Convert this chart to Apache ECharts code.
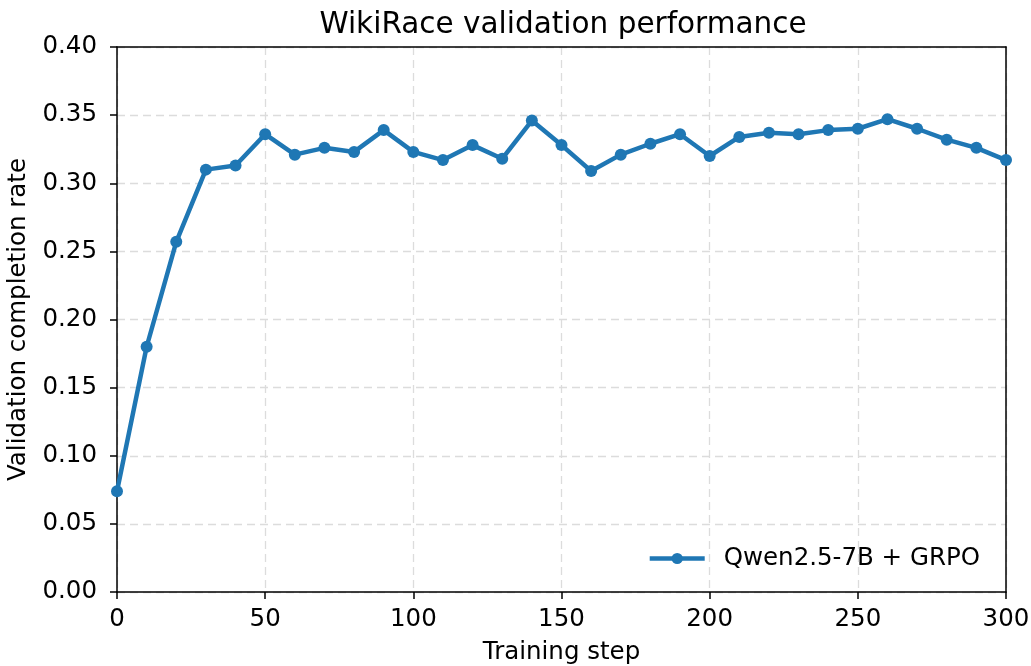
<!DOCTYPE html>
<html>
<head>
<meta charset="utf-8">
<script src="https://cdn.jsdelivr.net/npm/echarts@6/dist/echarts.min.js"></script>
<style>html,body{margin:0;padding:0;background:#fff}#c{width:1031px;height:666px}</style>
</head>
<body>
<div id="c"></div>
<script>
const steps = [0,10,20,30,40,50,60,70,80,90,100,110,120,130,140,150,160,170,180,190,200,210,220,230,240,250,260,270,280,290,300];
const completionRate = [0.074,0.180,0.257,0.310,0.313,0.336,0.321,0.326,0.323,0.339,0.323,0.317,0.328,0.318,0.346,0.328,0.309,0.321,0.329,0.336,0.320,0.334,0.337,0.336,0.339,0.340,0.347,0.340,0.332,0.326,0.317];
const seriesName = 'Qwen2.5-7B + GRPO';
const titleText = 'WikiRace validation performance';
const xLabel = 'Training step';
const yLabel = 'Validation completion rate';

const font = 'DejaVu Sans';
const fs = 24.5;
const frameAxis = {show: true, onZero: false, lineStyle: {color: '#000', width: 1.5}};
const chart = echarts.init(document.getElementById('c'), null, {renderer:'canvas'});
chart.setOption({
  animation: false,
  backgroundColor: '#fff',
  textStyle: {fontFamily: font},
  title: {
    text: titleText, left: 558, textAlign: 'center', top: 5,
    textStyle: {fontFamily: font, fontSize: 29.5, fontWeight: 'normal', color: '#000'}
  },
  grid: {left: 117, right: 25, top: 47, bottom: 74, outerBoundsMode: 'none', containLabel: false},
  legend: {
    right: 46, top: 541, itemWidth: 55, itemHeight: 14, itemGap: 10,
    data: [{name: seriesName}],
    lineStyle: {width: 4.5},
    textStyle: {fontFamily: font, fontSize: fs, color: '#000', padding: [0,0,0,14]}
  },
  xAxis: [{
    type: 'value', min: 0, max: 300, interval: 50,
    name: xLabel, nameLocation: 'middle', nameGap: 48,
    nameTextStyle: {fontFamily: font, fontSize: fs, color: '#000'},
    axisLine: frameAxis,
    axisTick: {show: true, length: 7, lineStyle: {color: '#000', width: 1.5}},
    axisLabel: {fontFamily: font, fontSize: fs, color: '#000', margin: 15},
    splitLine: {show: true, lineStyle: {color: '#dcdcdc', type: [8, 5], width: 1.3}},
    z: 5
  }, {
    type: 'value', position: 'top', min: 0, max: 300,
    axisLine: frameAxis, axisTick: {show: false}, axisLabel: {show: false}, splitLine: {show: false}, z: 5
  }],
  yAxis: [{
    type: 'value', min: 0, max: 0.4, interval: 0.05,
    name: yLabel, nameLocation: 'middle', nameGap: 82, nameRotate: 90,
    nameTextStyle: {fontFamily: font, fontSize: fs, color: '#000'},
    axisLine: frameAxis,
    axisTick: {show: true, length: 7, lineStyle: {color: '#000', width: 1.5}},
    axisLabel: {fontFamily: font, fontSize: fs, color: '#000', margin: 20, formatter: v => v.toFixed(2)},
    splitLine: {show: true, lineStyle: {color: '#dcdcdc', type: [8, 5], width: 1.3}},
    z: 5
  }, {
    type: 'value', position: 'right', min: 0, max: 0.4,
    axisLine: frameAxis, axisTick: {show: false}, axisLabel: {show: false}, splitLine: {show: false}, z: 5
  }],
  series: [{
    name: seriesName, type: 'line',
    xAxisIndex: 0, yAxisIndex: 0,
    data: steps.map((s, i) => [s, completionRate[i]]),
    symbol: 'circle', symbolSize: 12, showSymbol: true,
    lineStyle: {color: '#1f77b4', width: 4.5},
    itemStyle: {color: '#1f77b4'},
    clip: true, z: 10
  }]
});
</script>
</body>
</html>
